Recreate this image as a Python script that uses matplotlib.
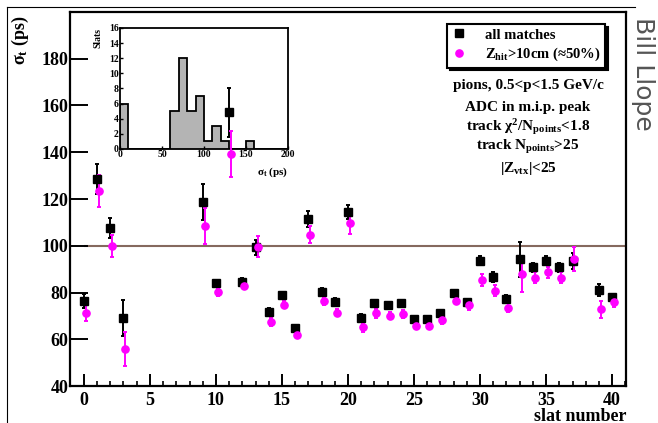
import numpy as np
import matplotlib
matplotlib.use("Agg")
import matplotlib.pyplot as plt
from matplotlib.lines import Line2D

plt.rcParams['font.family'] = ['Liberation Serif', 'DejaVu Serif']
plt.rcParams['font.weight'] = 'bold'
plt.rcParams['mathtext.fontset'] = 'custom'
plt.rcParams['mathtext.rm'] = 'Liberation Serif:bold'
plt.rcParams['mathtext.it'] = 'Liberation Serif:bold'
plt.rcParams['mathtext.bf'] = 'Liberation Serif:bold'

# sigma_t per slat (ps)
slats = [0, 1, 2, 3, 9, 10, 11, 12, 13, 14, 15, 16, 17, 18, 19, 20, 21, 22, 23, 24,
         25, 26, 27, 28, 29, 30, 31, 32, 33, 34, 35, 36, 37, 39, 40]
sig_all = [76.5, 128.5, 107.7, 69.2, 118.8, 83.9, 157.2, 84.6, 99.3, 71.8, 78.9, 64.7,
           111.4, 80.3, 76.1, 114.3, 69.2, 75.4, 74.6, 75.6, 68.5, 68.5, 71.4, 79.6,
           75.8, 93.6, 86.7, 77.3, 94.2, 90.7, 93.6, 90.7, 93.6, 81.1, 77.9]
err_all = [3.0, 6.5, 4.3, 7.6, 7.7, 1.5, 10.5, 1.5, 3.3, 1.5, 1.2, 1.2, 3.5, 1.5, 1.5,
           3.0, 1.5, 1.5, 1.2, 1.2, 1.2, 1.2, 1.2, 1.5, 1.5, 2.0, 2.2, 1.5, 7.5, 2.0,
           2.0, 1.8, 3.5, 2.5, 1.5]
sig_z = [71.2, 123.5, 100.0, 55.8, 108.4, 80.1, 139.3, 82.8, 99.6, 67.5, 74.8, 61.9,
         104.8, 76.4, 71.4, 109.6, 65.1, 71.1, 70.1, 70.8, 65.7, 65.7, 68.2, 76.5,
         74.6, 85.3, 80.8, 73.5, 87.9, 86.4, 88.6, 86.4, 94.2, 72.8, 75.8]
err_z = [3.4, 6.8, 4.8, 7.4, 7.8, 1.8, 10.0, 1.5, 4.4, 1.8, 1.5, 1.2, 3.7, 1.8, 1.5,
         4.5, 1.8, 1.8, 1.5, 1.8, 1.5, 1.5, 1.5, 1.5, 2.0, 2.5, 2.5, 2.0, 7.7, 2.5,
         2.5, 2.2, 5.2, 3.5, 1.8]
dead_slats = [4, 5, 6, 7, 8, 38]   # no data -> entered as 0 in the histogram

cut_lines = ["pions, 0.5<p<1.5 GeV/c",
             "ADC in m.i.p. peak",
             r"track χ$^{2}$/N$_{\rm points}$<1.8",
             r"track N$_{\rm points}$>25",
             r"|Z$_{\rm vtx}$|<25"]

fig = plt.figure(figsize=(6.58, 4.23), dpi=100)
W, H = 658.0, 423.0

ax = fig.add_axes([70 / W, 1 - 386 / H, 556 / W, 374 / H])
ax.set_zorder(2)
ax.set_facecolor('none')

x_all = np.array(slats, dtype=float)
ax.errorbar(x_all, sig_all, yerr=err_all, fmt='s', color='black', ms=5.4,
            elinewidth=1.4, capsize=1.6, capthick=1.4)
ax.errorbar(x_all + 0.15, sig_z, yerr=err_z, fmt='o', color='#ff00ff', ms=5.2,
            elinewidth=1.4, capsize=1.6, capthick=1.4)
ax.hlines(100, 0, 41.05, color='#85695e', lw=1.5, zorder=1)

ax.set_xlim(-1.05, 41.05)
ax.set_ylim(40, 200)
ax.set_xticks(np.arange(0, 41, 5))
ax.set_xticks(np.arange(0, 42, 1), minor=True)
ax.set_yticks(np.arange(40, 181, 20))
ax.tick_params(axis='x', which='major', direction='in', length=8.5, width=1.4,
               labelsize=13, pad=4)
ax.tick_params(axis='x', which='minor', direction='in', length=3.6, width=1.2)
ax.tick_params(axis='y', which='major', direction='in', length=13, width=1.4,
               labelsize=13, pad=1)
for s in ax.spines.values():
    s.set_linewidth(1.6)

handles = [Line2D([], [], marker='s', color='black', ls='none', ms=5.4),
           Line2D([], [], marker='o', color='#ff00ff', ls='none', ms=5.2)]
labels = ['all matches', r'Z$_{\rm hit}$>10cm (≈50%)']
leg = ax.legend(handles, labels, loc='upper left', bbox_to_anchor=(447 / W, 1 - 24 / H),
                bbox_transform=fig.transFigure, fancybox=False, framealpha=1,
                edgecolor='black', fontsize=10.5, handlelength=1.0, handletextpad=1.3,
                borderpad=0.3, labelspacing=0.3, borderaxespad=0,
                shadow={'color': 'black', 'alpha': 1.0})
leg.get_frame().set_linewidth(1.5)

ys = [86, 107, 127, 147, 168]
for t, y in zip(cut_lines, ys):
    fig.text(528 / W, 1 - y / H, t, ha='center', va='center', fontsize=11)

fig.text(20 / W, 1 - 16 / H, r'σ$_{\rm t}$ (ps)', rotation=90, ha='center', va='top',
         fontsize=13)
fig.text(626 / W, 1 - 416 / H, 'slat number', ha='right', va='center', fontsize=13)

fig.text(643 / W, 1 - 17 / H, 'Bill Llope', rotation=-90, ha='center', va='top',
         fontsize=18, color='#555555', family='DejaVu Sans', fontweight='normal')

# inset histogram of sigma_t
ax_in = fig.add_axes([120 / W, 1 - 149 / H, 168 / W, 121 / H])
ax_in.set_zorder(1)
hist_vals = np.concatenate([sig_all, np.zeros(len(dead_slats))])
counts, edges = np.histogram(hist_vals, bins=20, range=(0, 200))
ax_in.stairs(counts, edges, fill=True, color='#b4b4b4')
ax_in.stairs(counts, edges, color='black', lw=1.3, baseline=0)
ax_in.set_xlim(0, 200)
ax_in.set_ylim(0, 16)
ax_in.set_xticks([0, 50, 100, 150, 200])
ax_in.set_yticks(np.arange(0, 17, 2))
ax_in.tick_params(direction='in', length=2.5, width=1, labelsize=7, pad=1)
for s in ax_in.spines.values():
    s.set_linewidth(1.3)
ax_in.text(-0.13, 1.0, 'Slats', rotation=90, transform=ax_in.transAxes,
           ha='center', va='top', fontsize=7)
ax_in.text(1.0, -0.14, r'σ$_{\rm t}$ (ps)', transform=ax_in.transAxes,
           ha='right', va='top', fontsize=8)

# page frame lines
fig.add_artist(Line2D([7 / W, 635 / W], [1 - 7 / H, 1 - 7 / H], color='black', lw=0.8))
fig.add_artist(Line2D([7 / W, 7 / W], [0, 1 - 7 / H], color='black', lw=0.8))

fig.savefig('out.png', dpi=100)
